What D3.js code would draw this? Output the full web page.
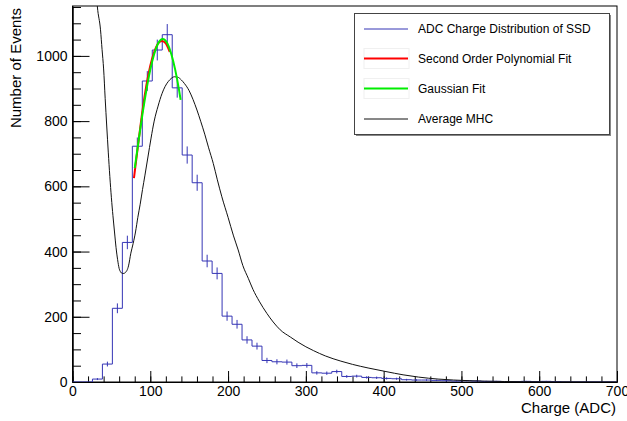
<!DOCTYPE html>
<html>
<head>
<meta charset="utf-8">
<script src="https://cdn.jsdelivr.net/npm/d3@7"></script>
<style>
body { margin: 0; background: #fff; }
svg { font-family: "Liberation Sans", Arial, sans-serif; }
</style>
</head>
<body>
<script>
const width = 627, height = 421;

// SSD charge histogram, 78 bins over 0-1000 ADC (only 0-700 shown)
const binWidth = 1000 / 78;
const ssdCounts = [0, 0, 9, 55, 226, 428, 723, 923, 1018, 1065,
    902, 696, 611, 371, 333, 202, 177, 129, 110, 66,
    62, 61, 50, 51, 28, 27, 32, 17, 18, 14,
    13, 11, 10, 7, 6, 6, 5, 4, 3, 4,
    3, 2, 2, 1, 1, 2, 1, 2, 1, 0,
    0, 0, 0, 0, 0];

// average MHC curve
const mhcCharge = [28, 32, 36, 38, 40, 42, 44, 46, 48, 50, 52, 54, 56, 58, 60, 62, 64, 66, 68, 70,
    72, 75, 78, 81, 84, 87, 90, 93, 97, 101, 105, 110, 115, 119, 123, 127, 131, 135, 140, 144,
    150, 155, 160, 165, 170, 175, 181, 186, 192, 200, 207, 213, 219, 226, 232, 240, 250, 258, 267, 280,
    290, 300, 310, 325, 345, 360, 380, 403, 425, 445, 470, 490, 510, 530, 555, 580, 620, 660, 700];
const mhcCounts = [1280, 1150, 1080, 1020, 960, 870, 785, 705, 630, 565, 510, 460, 412, 375, 348, 337, 333, 333, 336, 342,
    356, 395, 425, 460, 505, 545, 590, 632, 690, 748, 800, 846, 884, 906, 921, 931, 936, 935, 926, 915,
    893, 866, 834, 798, 760, 718, 670, 622, 568, 505, 448, 405, 357, 318, 284, 248, 210, 184, 160, 138,
    122, 108, 96, 80, 64, 54, 43, 32, 22, 15, 9, 6, 4, 2.5, 1.5, 1, 0.5, 0.2, 0];

// fits
const polyCharge = [79, 85, 90, 95, 100, 105, 110, 115, 120, 125];
const polyCounts = [625, 740, 833, 910, 970, 1012, 1038, 1046, 1038, 1012];
const gausCharge = [80, 85, 90, 95, 100, 105, 110, 116, 122, 127, 132, 137, 139];
const gausCounts = [656, 740, 822, 895, 958, 1006, 1038, 1052, 1038, 1006, 958, 895, 865];

const legendLabels = ['ADC Charge Distribution of SSD', 'Second Order Polynomial Fit', 'Gaussian Fit', 'Average MHC'];
const legendColors = ['#3535b5', '#ff0000', '#00ee00', '#111'];

const xMajor = [0, 100, 200, 300, 400, 500, 600, 700];
const xMinor = d3.range(0, 701, 20);
const yMajor = [0, 200, 400, 600, 800, 1000];
const yMinor = d3.range(0, 1151, 50);

const x = d3.scaleLinear().domain([0, 700]).range([72.5, 617]);
const y = d3.scaleLinear().domain([0, 1153]).range([382, 6]);

const svg = d3.select('body').append('svg').attr('width', width).attr('height', height);

svg.append('clipPath').attr('id', 'plot')
    .append('rect').attr('x', x(0)).attr('y', y(1153)).attr('width', x(700) - x(0)).attr('height', y(0) - y(1153));

// axes
const ax = svg.append('g').attr('class', 'axes');
ax.append('g').attr('transform', `translate(0,${y(0)})`)
    .call(d3.axisBottom(x).tickValues(xMinor).tickSizeInner(-5.6).tickSizeOuter(0).tickFormat(''));
ax.append('g').attr('transform', `translate(0,${y(0)})`)
    .call(d3.axisBottom(x).tickValues(xMajor).tickSizeInner(-11).tickSizeOuter(0).tickPadding(4).tickFormat(d3.format('d')));
ax.append('g').attr('transform', `translate(${x(0)},0)`)
    .call(d3.axisLeft(y).tickValues(yMinor).tickSizeInner(-8.5).tickSizeOuter(0).tickFormat(''));
ax.append('g').attr('transform', `translate(${x(0)},0)`)
    .call(d3.axisLeft(y).tickValues(yMajor).tickSizeInner(-17).tickSizeOuter(0).tickPadding(5).tickFormat(d3.format('d')));
ax.selectAll('g').attr('font-size', 14).attr('font-family', '"Liberation Sans", Arial, sans-serif');
ax.selectAll('text').attr('fill', '#000');
ax.selectAll('line, path').attr('stroke', '#000');

svg.append('rect')
    .attr('x', x(0)).attr('y', y(1153)).attr('width', x(700) - x(0)).attr('height', y(0) - y(1153))
    .attr('fill', 'none').attr('stroke', '#000');

svg.append('text').attr('transform', `translate(21,8) rotate(-90)`)
    .attr('text-anchor', 'end').style('font-size', '15px').text('Number of Events');
svg.append('text').attr('x', 616).attr('y', 413)
    .attr('text-anchor', 'end').style('font-size', '15px').text('Charge (ADC)');

const plot = svg.append('g').attr('clip-path', 'url(#plot)');

// blue histogram
const hist = ssdCounts.map((c, i) => ({ x0: i * binWidth, c }));
hist.push({ x0: ssdCounts.length * binWidth, c: 0 });
plot.append('path').datum(hist)
    .attr('fill', 'none').attr('stroke', legendColors[0]).attr('stroke-width', 1)
    .attr('d', d3.line().curve(d3.curveStepAfter).x(d => x(d.x0)).y(d => y(d.c)));

plot.selectAll('line.err').data(ssdCounts.map((c, i) => ({ c, xc: (i + 0.5) * binWidth })).filter(d => d.c > 0))
    .join('line').attr('class', 'err')
    .attr('x1', d => x(d.xc)).attr('x2', d => x(d.xc))
    .attr('y1', d => y(d.c - Math.sqrt(d.c))).attr('y2', d => y(d.c + Math.sqrt(d.c)))
    .attr('stroke', legendColors[0]).attr('stroke-width', 1);

// average MHC
const smooth = d3.line().curve(d3.curveMonotoneX).x(d => x(d[0])).y(d => y(d[1]));
plot.append('path').datum(d3.zip(mhcCharge, mhcCounts))
    .attr('fill', 'none').attr('stroke', legendColors[3]).attr('stroke-width', 1).attr('d', smooth);

// fits
plot.append('path').datum(d3.zip(polyCharge, polyCounts))
    .attr('fill', 'none').attr('stroke', legendColors[1]).attr('stroke-width', 2).attr('d', smooth);
plot.append('path').datum(d3.zip(gausCharge, gausCounts))
    .attr('fill', 'none').attr('stroke', legendColors[2]).attr('stroke-width', 2).attr('d', smooth);

// legend
const lg = svg.append('g');
lg.append('rect').attr('x', 356).attr('y', 15).attr('width', 255).attr('height', 121).attr('fill', '#888');
lg.append('rect').attr('x', 354.5).attr('y', 13.5).attr('width', 255).attr('height', 121)
    .attr('fill', '#fff').attr('stroke', '#444');
const rowsY = [29, 58.5, 88.5, 119];
legendLabels.forEach((label, i) => {
    if (i === 1 || i === 2) {
        lg.append('rect').attr('x', 364).attr('y', rowsY[i] - 10).attr('width', 45).attr('height', 20)
            .attr('fill', 'none').attr('stroke', '#f0f0f0');
    }
    lg.append('line').attr('x1', 364).attr('x2', 408).attr('y1', rowsY[i]).attr('y2', rowsY[i])
        .attr('stroke', legendColors[i]).attr('stroke-width', i === 1 || i === 2 ? 2 : 1);
    lg.append('text').attr('x', 418).attr('y', rowsY[i]).attr('dy', '0.35em')
        .style('font-size', '12px').text(label);
});
</script>
</body>
</html>
